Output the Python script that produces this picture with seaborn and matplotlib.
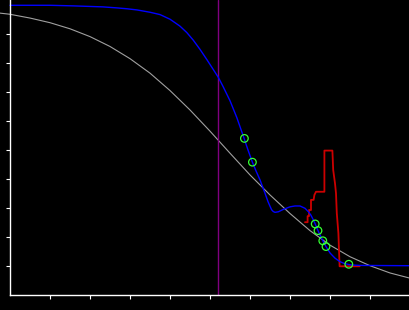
import matplotlib
matplotlib.use("Agg")
import matplotlib.pyplot as plt
import seaborn as sns
import pandas as pd

# ---- data ----
gray_x = [-0.25, 0, 0.5, 1.0, 1.5, 2.0, 2.5, 3.0, 3.5, 4.0, 4.5, 5.0, 5.5,
          6.0, 6.5, 7.0, 7.5, 8.0, 8.5, 9.0, 9.5, 10.0]
gray_y = [0.972, 0.968, 0.955, 0.939, 0.918, 0.891, 0.857, 0.815, 0.765, 0.705,
          0.638, 0.565, 0.489, 0.414, 0.345, 0.281, 0.222, 0.172, 0.132, 0.101,
          0.076, 0.058]

blue_x = [0.0, 1.0, 1.575, 2.325, 2.675, 2.925, 3.175, 3.5, 3.75, 4.0, 4.25,
          4.42, 4.58, 4.75, 4.92, 5.08, 5.21, 5.33, 5.5, 5.67, 5.83, 5.95,
          6.06, 6.15, 6.25, 6.375, 6.45, 6.5, 6.54, 6.58, 6.625, 6.71, 6.83,
          7.0, 7.125, 7.25, 7.375, 7.46, 7.52, 7.58, 7.63, 7.7, 7.76, 7.82,
          7.9, 8.0, 8.125, 8.25, 8.35, 8.47, 8.6, 8.75, 10.0]
blue_y = [0.999, 0.999, 0.997, 0.9935, 0.990, 0.987, 0.983, 0.975, 0.967,
          0.951, 0.927, 0.905, 0.879, 0.847, 0.812, 0.778, 0.750, 0.718, 0.670,
          0.612, 0.549, 0.500, 0.458, 0.428, 0.397, 0.351, 0.322, 0.306, 0.294,
          0.288, 0.285, 0.287, 0.295, 0.304, 0.307, 0.307, 0.299, 0.287, 0.276,
          0.260, 0.245, 0.222, 0.204, 0.187, 0.167, 0.145, 0.127, 0.115, 0.109,
          0.105, 0.103, 0.102, 0.101]

red_x = [7.375, 7.44, 7.44, 7.475, 7.475, 7.525, 7.525, 7.59, 7.61, 7.65, 7.86,
         7.86, 8.06, 8.08, 8.125, 8.15, 8.17, 8.21, 8.225, 8.24, 8.74]
red_y = [0.251, 0.251, 0.272, 0.272, 0.293, 0.293, 0.328, 0.328, 0.345, 0.356,
         0.356, 0.498, 0.498, 0.431, 0.385, 0.351, 0.282, 0.213, 0.155, 0.099,
         0.099]

pts_x = [5.86, 6.06, 7.63, 7.7, 7.82, 7.9, 8.47]
pts_y = [0.540, 0.458, 0.245, 0.222, 0.187, 0.167, 0.106]

vline_x = 5.21
x_ticks = [1, 2, 3, 4, 5, 6, 7, 8, 9]
y_ticks = [0.1, 0.2, 0.3, 0.4, 0.5, 0.6, 0.7, 0.8, 0.9]

# ---- figure ----
sns.set_style("dark")
plt.rcParams.update({"figure.facecolor": "black", "axes.facecolor": "black",
                     "savefig.facecolor": "black"})
fig = plt.figure(figsize=(4.1, 3.1), dpi=100)
ax = fig.add_axes([0, 15 / 310, 1, 295 / 310])
ax.set_facecolor("black")

gray_df = pd.DataFrame({"x": gray_x, "y": gray_y})
blue_df = pd.DataFrame({"x": blue_x, "y": blue_y})
red_df = pd.DataFrame({"x": red_x, "y": red_y})
pts_df = pd.DataFrame({"x": pts_x, "y": pts_y})

sns.lineplot(data=gray_df, x="x", y="y", color="#a0a0a0", lw=0.8,
             estimator=None, sort=False, ax=ax)
ax.axvline(vline_x, color="#800080", lw=1.0)
sns.lineplot(data=red_df, x="x", y="y", color="#cc0000", lw=1.3,
             estimator=None, sort=False, ax=ax)
sns.lineplot(data=blue_df, x="x", y="y", color="#0000ff", lw=1.0,
             estimator=None, sort=False, ax=ax)
sns.scatterplot(data=pts_df, x="x", y="y", s=30, facecolors="none",
                edgecolor="#33ff33", linewidth=0.9, marker="o", ax=ax, zorder=5)

ax.set_xlim(-0.25, 10.0)
ax.set_ylim(0, 295 / 290)
ax.set_xticks(x_ticks)
ax.set_yticks(y_ticks)
ax.set_xticklabels([])
ax.set_yticklabels([])
ax.set_xlabel("")
ax.set_ylabel("")
ax.grid(False)
for s in ["top", "right"]:
    ax.spines[s].set_visible(False)
ax.spines["left"].set_position(("data", 0))
ax.spines["left"].set_color("white")
ax.spines["bottom"].set_color("white")
ax.spines["left"].set_linewidth(1.0)
ax.spines["bottom"].set_linewidth(1.0)
ax.spines["bottom"].set_bounds(0, 10)
ax.tick_params(axis="both", direction="out", colors="white", length=3,
               width=0.8, bottom=True, left=True)

fig.savefig("out.png", dpi=100, facecolor="black")
